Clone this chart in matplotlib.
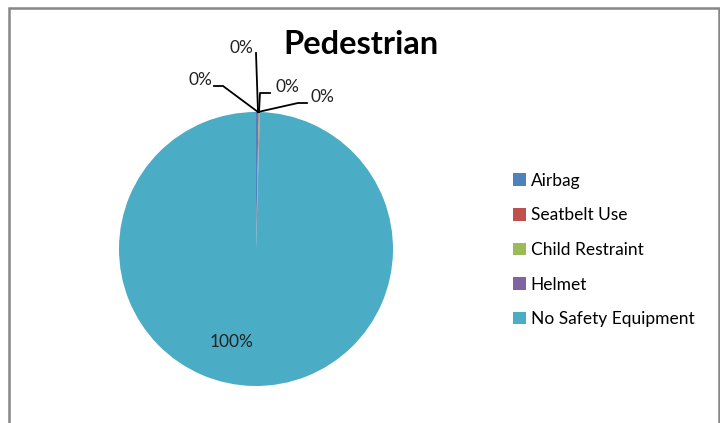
import matplotlib
matplotlib.use("Agg")
import matplotlib.pyplot as plt
import matplotlib.patches as mpatches
from matplotlib.lines import Line2D

categories = ["Airbag", "Seatbelt Use", "Child Restraint", "Helmet", "No Safety Equipment"]
values = [0.3, 0.05, 0.05, 0.05, 99.55]
colors = ["#4F81BD", "#C0504D", "#9BBB59", "#8064A2", "#4BACC6"]
TITLE = "Pedestrian"

W, H = 720, 423
plt.rcParams["font.family"] = ["Lato", "DejaVu Sans"]

fig = plt.figure(figsize=(W / 100, H / 100), dpi=100)
fig.patch.set_facecolor("white")


def px(x, y):
    """pixel (from top-left) -> figure fraction"""
    return x / W, 1 - y / H


# outer chart frame (bottom edge runs off the image)
fig.add_artist(mpatches.Rectangle(px(8.5, 440), 710 / W, 432 / H, transform=fig.transFigure,
                                  fill=False, edgecolor="#878787", lw=1.8))

# pie axes: centre (256, 249), radius 137 px
cx, cy, r = 256, 249, 137
ax = fig.add_axes([(cx - r) / W, 1 - (cy + r) / H, 2 * r / W, 2 * r / H])
wedges, _ = ax.pie(values, colors=colors, startangle=90, counterclock=False, radius=1)
ax.set_xlim(-1, 1); ax.set_ylim(-1, 1)
ax.axis("off")

total = sum(values)
pct = [f"{round(v / total * 100):.0f}%" for v in values]

# small-slice labels with leader lines (label pos, elbow points)
lab_pos = [(241, 48), (200, 80), (287, 87), (322, 97)]
leaders = [
    [(256, 53), (258, 112)],
    [(214, 86), (223, 86), (258, 112)],
    [(270, 93), (260, 93), (259, 112)],
    [(307, 103), (298, 103), (258, 112)],
]
for txt, (lx, ly), pts in zip(pct[:4], lab_pos, leaders):
    fig.text(*px(lx, ly), txt, ha="center", va="center", fontsize=12.5, color="#222")
    xs, ys = zip(*[px(x, y) for x, y in pts])
    fig.add_artist(Line2D(xs, ys, transform=fig.transFigure, color="black", lw=1.3))

fig.text(*px(232, 342), pct[4], ha="center", va="center", fontsize=12.5, color="#222")

fig.text(*px(361, 45), TITLE, ha="center", va="center", fontsize=23.5, fontweight="bold")

handles = [mpatches.Patch(facecolor=c, edgecolor="none") for c in colors]
fig.legend(handles, categories, loc="center left", bbox_to_anchor=px(497, 250),
           frameon=False, fontsize=12.5, handlelength=0.75, handleheight=0.75,
           handletextpad=0.3, labelspacing=1.07)

fig.savefig("out.png", dpi=100, facecolor="white")
